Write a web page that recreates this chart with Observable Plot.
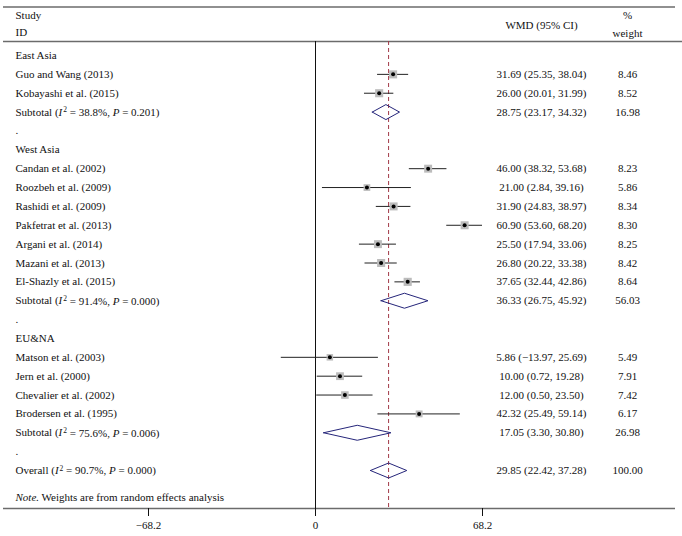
<!DOCTYPE html>
<html>
<head>
<meta charset="utf-8">
<script src="https://cdn.jsdelivr.net/npm/d3@7"></script>
<script src="https://cdn.jsdelivr.net/npm/@observablehq/plot@0.6"></script>
<style>
  html, body { margin: 0; padding: 0; background: #fff; }
</style>
</head>
<body>
<div id="chart"></div>
<script>
// ---- data ----
const groupNames = ["East Asia", "West Asia", "EU&NA"];
const studyNames = [
  "Guo and Wang (2013)", "Kobayashi et al. (2015)",
  "Candan et al. (2002)", "Roozbeh et al. (2009)", "Rashidi et al. (2009)", "Pakfetrat et al. (2013)",
  "Argani et al. (2014)", "Mazani et al. (2013)", "El-Shazly et al. (2015)",
  "Matson et al. (2003)", "Jern et al. (2000)", "Chevalier et al. (2002)", "Brodersen et al. (1995)"
];
const studyGroup = [0, 0, 1, 1, 1, 1, 1, 1, 1, 2, 2, 2, 2];
const studyEst = [31.69, 26.00, 46.00, 21.00, 31.90, 60.90, 25.50, 26.80, 37.65, 5.86, 10.00, 12.00, 42.32];
const studyLo  = [25.35, 20.01, 38.32, 2.84, 24.83, 53.60, 17.94, 20.22, 32.44, -13.97, 0.72, 0.50, 25.49];
const studyHi  = [38.04, 31.99, 53.68, 39.16, 38.97, 68.20, 33.06, 33.38, 42.86, 25.69, 19.28, 23.50, 59.14];
const studyWeight = [8.46, 8.52, 8.23, 5.86, 8.34, 8.30, 8.25, 8.42, 8.64, 5.49, 7.91, 7.42, 6.17];

const pooledNames = ["Subtotal", "Subtotal", "Subtotal", "Overall"];
const pooledI2 = ["38.8%", "91.4%", "75.6%", "90.7%"];
const pooledP  = ["0.201", "0.000", "0.006", "0.000"];
const pooledEst = [28.75, 36.33, 17.05, 29.85];
const pooledLo  = [23.17, 26.75, 3.30, 22.42];
const pooledHi  = [34.32, 45.92, 30.80, 37.28];
const pooledWeight = [16.98, 56.03, 26.98, 100.00];

const xTicks = [-68.2, 0, 68.2];
const noteText = "Weights are from random effects analysis";

// ---- layout helpers (pixel -> data units) ----
const W = 682, H = 536;
const k = 167 / 68.2;        // px per WMD unit
const zeroPx = 315;
const step = 415 / 22;       // px per row
const row0Px = 55;
const X = p => (p - zeroPx) / k;
const Y = p => (p - row0Px) / step;

// ---- build rows ----
const fmt = v => v.toFixed(2).replace("-", "\u2212");
const rows = [];
let r = 0;
groupNames.forEach((g, gi) => {
  rows.push({row: r++, label: g, kind: "header"});
  studyNames.forEach((s, i) => {
    if (studyGroup[i] !== gi) return;
    rows.push({row: r++, label: s, kind: "study", est: studyEst[i], lo: studyLo[i], hi: studyHi[i], w: studyWeight[i]});
  });
  rows.push({row: r++, label: `${pooledNames[gi]} (I2 = ${pooledI2[gi]}, P = ${pooledP[gi]})`, kind: "pooled",
             est: pooledEst[gi], lo: pooledLo[gi], hi: pooledHi[gi], w: pooledWeight[gi]});
  rows.push({row: r++, label: ".", kind: "sep"});
});
rows.push({row: r++, label: `${pooledNames[3]} (I2 = ${pooledI2[3]}, P = ${pooledP[3]})`, kind: "pooled",
           est: pooledEst[3], lo: pooledLo[3], hi: pooledHi[3], w: pooledWeight[3]});

const studies = rows.filter(d => d.kind === "study");
const pooled = rows.filter(d => d.kind === "pooled");
const withStats = rows.filter(d => d.est !== undefined);
const overall = pooled[pooled.length - 1];

const h = 7.5 / step;
const diamondPts = pooled.flatMap((d, i) => [
  {x: d.lo, y: d.row, z: i}, {x: d.est, y: d.row - h, z: i},
  {x: d.hi, y: d.row, z: i}, {x: d.est, y: d.row + h, z: i}, {x: d.lo, y: d.row, z: i}
]);

const font = "Liberation Serif, Times New Roman, serif";
const gray = "#6b6b6b";

const chart = Plot.plot({
  width: W, height: H,
  marginTop: 0, marginLeft: 0, marginRight: 0, marginBottom: 28,
  x: {domain: [X(0), X(W)], range: [0, W], axis: null},
  y: {domain: [Y(0), Y(508)], range: [0, 508], axis: null},
  r: {type: "sqrt", domain: [0, d3.max(studyWeight)], range: [0, 4.6]},
  style: {fontFamily: font, fontSize: "11px", color: "#111", background: "#fff"},
  marks: [
    // horizontal frame lines
    Plot.ruleY([Y(6.5)], {x1: X(3), x2: X(675), stroke: gray, strokeWidth: 1.3}),
    Plot.ruleY([Y(41)], {x1: X(3), x2: X(W), stroke: gray, strokeWidth: 1.3}),
    Plot.ruleY([Y(508)], {x1: X(3), x2: X(675), stroke: gray, strokeWidth: 1.3}),
    // zero line and overall dashed line
    Plot.ruleX([0], {y1: Y(41), y2: Y(516), stroke: "#111", strokeWidth: 1}),
    Plot.ruleX([overall.est], {y1: Y(41), y2: Y(508), stroke: "#a23a48", strokeWidth: 1, strokeDasharray: "4,3"}),
    // CIs
    Plot.ruleY(studies, {y: "row", x1: "lo", x2: "hi", stroke: "#222", strokeWidth: 1}),
    Plot.dot(studies, {x: "est", y: "row", r: "w", symbol: "square", fill: "#bcbcbc", stroke: null}),
    Plot.dot(studies, {x: "est", y: "row", r: 2, fill: "#000", stroke: null}),
    // diamonds
    Plot.line(diamondPts, {x: "x", y: "y", z: "z", stroke: "#25257a", strokeWidth: 1, curve: "linear"}),
    // x axis
    Plot.axisX({ticks: xTicks, tickFormat: d => d < 0 ? "\u2212" + Math.abs(d) : String(d),
                tickSize: 8, tickPadding: 5, stroke: "#111", fill: "#111", label: null, fontSize: 11}),
    // header texts
    Plot.text(["Study"], {x: X(15), y: Y(15), text: d => d, textAnchor: "start", fill: "#111"}),
    Plot.text(["ID"], {x: X(15), y: Y(32), text: d => d, textAnchor: "start", fill: "#111"}),
    Plot.text(["WMD (95% CI)"], {x: X(541), y: Y(25), text: d => d, textAnchor: "middle", fill: "#111"}),
    Plot.text(["%"], {x: X(627), y: Y(15), text: d => d, textAnchor: "middle", fill: "#111"}),
    Plot.text(["weight"], {x: X(627), y: Y(33), text: d => d, textAnchor: "middle", fill: "#111"}),
    // row labels
    Plot.text(rows, {x: X(15), y: "row", text: "label", textAnchor: "start", fill: "#111"}),
    Plot.text(withStats, {x: X(541), y: "row", text: d => `${fmt(d.est)} (${fmt(d.lo)}, ${fmt(d.hi)})`, textAnchor: "middle", fill: "#111"}),
    Plot.text(withStats, {x: X(627), y: "row", text: d => d.w.toFixed(2), textAnchor: "middle", fill: "#111"}),
    // note
    Plot.text([noteText], {x: X(15), y: Y(497), text: d => "Note. " + d, textAnchor: "start", fill: "#111"})
  ]
});

// rich text: italic I, superscript 2, italic P, italic "Note."
const SVGNS = "http://www.w3.org/2000/svg";
function span(parent, txt, attrs = {}) {
  const t = document.createElementNS(SVGNS, "tspan");
  t.textContent = txt;
  for (const [a, v] of Object.entries(attrs)) t.setAttribute(a, v);
  parent.appendChild(t);
  return t;
}
chart.querySelectorAll("text").forEach(t => {
  const s = t.textContent;
  const m = s.match(/^(Subtotal|Overall) \(I2 = (.*), P = (.*)\)$/);
  if (m) {
    t.textContent = "";
    span(t, m[1] + " (");
    span(t, "I", {"font-style": "italic"});
    span(t, "2", {"font-size": "7.5px", dy: "-0.45em", dx: "1"});
    span(t, " = " + m[2] + ", ", {dy: "0.33em"});
    span(t, "P", {"font-style": "italic"});
    span(t, " = " + m[3] + ")");
  } else if (s.startsWith("Note. ")) {
    t.textContent = "";
    span(t, "Note.", {"font-style": "italic"});
    span(t, s.slice(5));
  }
});

document.getElementById("chart").appendChild(chart);
</script>
</body>
</html>
